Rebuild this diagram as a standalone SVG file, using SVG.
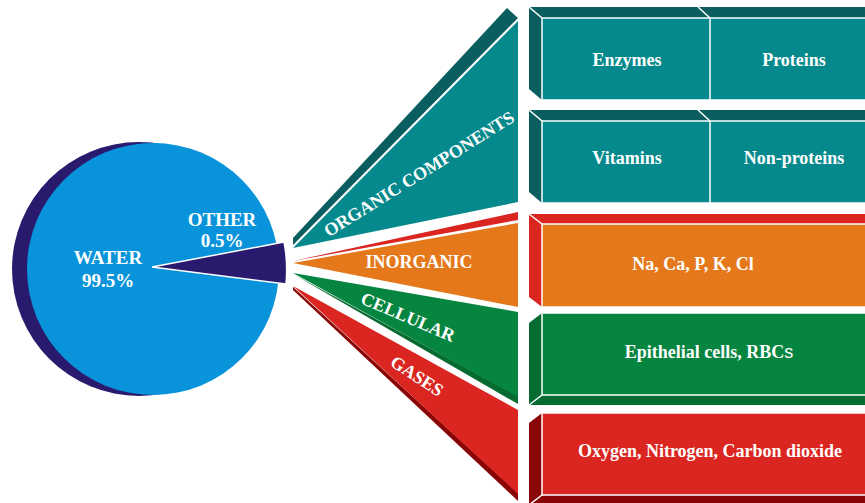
<svg xmlns="http://www.w3.org/2000/svg" width="865" height="503" viewBox="0 0 865 503">
<style>
.lbl{font-family:"Liberation Serif","Times New Roman",serif;font-weight:bold;font-size:18px;fill:#ffffff;text-anchor:middle}
.pie{font-size:19px}
.ln{stroke:#ffffff;stroke-width:1.5;fill:none}
.teal{fill:#06898c}
.dteal{fill:#0b5e5f}
.orange{fill:#e4781a}
.red{fill:#da2520}
.dred{fill:#8a0505}
.green{fill:#058540}
.dgreen{fill:#066b30}
.sans{font-family:"Liberation Sans",Arial,sans-serif;font-weight:normal}
</style>
<rect width="865" height="503" fill="#ffffff"/>
<g id="pie">
  <circle cx="139" cy="269" r="127" fill="#2a1a6e"/>
  <circle cx="153" cy="269" r="126" fill="#0893da"/>
  <path d="M152,267 L284,242 Q288,262 286,284 Z" fill="#2a1a6e" stroke="#ffffff" stroke-width="1.5" stroke-linejoin="miter"/>
  <text class="lbl pie" x="222" y="226">OTHER</text>
  <text class="lbl pie" x="222" y="247">0.5%</text>
  <text class="lbl pie" x="108" y="264">WATER</text>
  <text class="lbl pie" x="108" y="287">99.5%</text>
</g>
<g id="connectors">
  <g id="fan-organic">
    <polygon class="dteal" points="293,238 507,8 518,18 293,245"/>
    <polygon class="teal" points="293,248 518,21 518,202"/>
    <text class="lbl" transform="translate(419,174) rotate(-32)" x="0" y="6">ORGANIC COMPONENTS</text>
  </g>
  <g id="fan-inorganic">
    <polygon class="red" points="293,261 518,212 518,220"/>
    <polygon class="orange" points="293,263 518,223 518,307"/>
    <text class="lbl" x="419" y="268">INORGANIC</text>
  </g>
  <g id="fan-cellular">
    <polygon class="dgreen" points="293,274 518,396 518,404"/>
    <polygon class="green" points="293,273 518,312 518,397"/>
    <text class="lbl" transform="translate(408,317) rotate(23)" x="0" y="6">CELLULAR</text>
  </g>
  <g id="fan-gases">
    <polygon class="dred" points="293,287 518,493 518,501 293,290"/>
    <polygon class="red" points="293,286 518,410 518,494"/>
    <text class="lbl" transform="translate(417,376) rotate(33)" x="0" y="6">GASES</text>
  </g>
</g>
<g id="box-enzymes-proteins">
  <polygon class="dteal" points="529,7 866,7 866,18 542,18"/>
  <polygon class="dteal" points="529,7 542,18 542,100 529,89"/>
  <rect class="teal" x="542" y="18" width="330" height="82"/>
  <line class="ln" x1="529" y1="7" x2="542" y2="18"/>
  <line class="ln" x1="542" y1="18" x2="866" y2="18"/>
  <line class="ln" x1="542" y1="18" x2="542" y2="100"/>
  <line class="ln" x1="542" y1="100" x2="866" y2="100"/>
  <line class="ln" x1="710" y1="18" x2="710" y2="100"/>
  <line class="ln" x1="698" y1="7" x2="710" y2="18"/>
  <text class="lbl" x="627" y="66">Enzymes</text>
  <text class="lbl" x="794" y="66">Proteins</text>
</g>
<g id="box-vitamins-nonproteins">
  <polygon class="dteal" points="529,110 866,110 866,121 542,121"/>
  <polygon class="dteal" points="529,110 542,121 542,203 529,192"/>
  <rect class="teal" x="542" y="121" width="330" height="82"/>
  <line class="ln" x1="529" y1="110" x2="542" y2="121"/>
  <line class="ln" x1="542" y1="121" x2="866" y2="121"/>
  <line class="ln" x1="542" y1="121" x2="542" y2="203"/>
  <line class="ln" x1="542" y1="203" x2="866" y2="203"/>
  <line class="ln" x1="710" y1="121" x2="710" y2="203"/>
  <line class="ln" x1="698" y1="110" x2="710" y2="121"/>
  <text class="lbl" x="627" y="164">Vitamins</text>
  <text class="lbl" x="794" y="164">Non-proteins</text>
</g>
<g id="box-inorganic">
  <polygon class="red" points="529,214 866,214 866,224 542,224"/>
  <polygon class="red" points="529,214 542,224 542,307 529,297"/>
  <rect class="orange" x="542" y="224" width="330" height="83"/>
  <line class="ln" x1="529" y1="214" x2="542" y2="224"/>
  <line class="ln" x1="542" y1="224" x2="866" y2="224"/>
  <line class="ln" x1="542" y1="224" x2="542" y2="307"/>
  <line class="ln" x1="542" y1="307" x2="866" y2="307"/>
  <text class="lbl" x="693" y="270">Na, Ca, P, K, Cl</text>
</g>
<g id="box-cellular">
  <polygon class="dgreen" points="529,405 866,405 866,395 542,395"/>
  <polygon class="dgreen" points="529,323 542,313 542,395 529,405"/>
  <rect class="green" x="542" y="313" width="330" height="82"/>
  <line class="ln" x1="529" y1="405" x2="542" y2="395"/>
  <line class="ln" x1="542" y1="313" x2="866" y2="313"/>
  <line class="ln" x1="542" y1="313" x2="542" y2="395"/>
  <line class="ln" x1="542" y1="395" x2="866" y2="395"/>
  <text class="lbl" x="709" y="358">Epithelial cells, RBC<tspan class="sans">s</tspan></text>
</g>
<g id="box-gases">
  <polygon class="dred" points="529,505 866,505 866,495 542,495"/>
  <polygon class="dred" points="529,423 542,413 542,495 529,505"/>
  <rect class="red" x="542" y="413" width="330" height="82"/>
  <line class="ln" x1="529" y1="505" x2="542" y2="495"/>
  <line class="ln" x1="542" y1="413" x2="866" y2="413"/>
  <line class="ln" x1="542" y1="413" x2="542" y2="495"/>
  <line class="ln" x1="542" y1="495" x2="866" y2="495"/>
  <text class="lbl" x="710" y="457">Oxygen, Nitrogen, Carbon dioxide</text>
</g>
</svg>
